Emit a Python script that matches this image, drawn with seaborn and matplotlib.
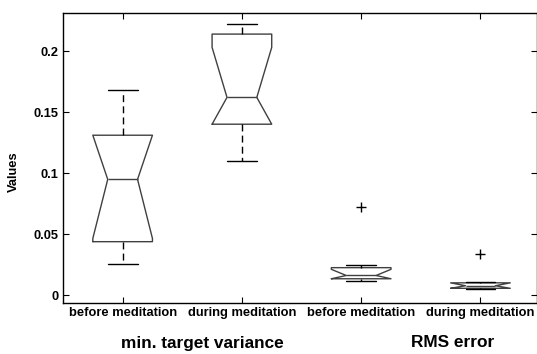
import numpy as np
import pandas as pd
import matplotlib.pyplot as plt
import seaborn as sns
from matplotlib.transforms import blended_transform_factory

# groups on the x axis (keys must be unique, labels repeat)
groups = ['mtv_before', 'mtv_during', 'rms_before', 'rms_during']
tick_labels = ['before meditation', 'during meditation',
               'before meditation', 'during meditation']
measure_labels = ['min. target variance', 'RMS error']

# values (8 per group)
mtv_before = [0.0252, 0.0420, 0.0443, 0.0900, 0.0996, 0.1280, 0.1400, 0.1680]
mtv_during = [0.1098, 0.1380, 0.1407, 0.1580, 0.1660, 0.2120, 0.2196, 0.2219]
rms_before = [0.0115, 0.0128, 0.0135, 0.0155, 0.0165, 0.0217, 0.0246, 0.0724]
rms_during = [0.0047, 0.0052, 0.0056, 0.0072, 0.0080, 0.0097, 0.0108, 0.0336]

ytick_values = [0, 0.05, 0.1, 0.15, 0.2]
ytick_labels = ['0', '0.05', '0.1', '0.15', '0.2']

series = [mtv_before, mtv_during, rms_before, rms_during]
df = pd.DataFrame({
    'group': np.repeat(groups, [len(s) for s in series]),
    'value': np.concatenate(series),
})

sns.set_style('ticks')
plt.rcParams['font.family'] = ['Liberation Sans', 'DejaVu Sans']
plt.rcParams['font.weight'] = 'bold'
plt.rcParams['text.color'] = 'k'
plt.rcParams['axes.labelcolor'] = 'k'
plt.rcParams['xtick.color'] = 'k'
plt.rcParams['ytick.color'] = 'k'

fig = plt.figure(figsize=(5.37, 3.54), dpi=100)
ax = fig.add_axes([63 / 537, 1 - 302.7 / 354, (536.5 - 63) / 537, (302.7 - 12.5) / 354])

sns.boxplot(data=df, x='group', y='value', order=groups, ax=ax,
            notch=True, fill=False, width=0.5, whis=1.5, linewidth=1,
            color='#404040',
            boxprops=dict(color='#404040', linewidth=1),
            medianprops=dict(color='#404040', linewidth=1),
            whiskerprops=dict(color='k', linewidth=1, linestyle=(0, (5, 3))),
            capprops=dict(color='k', linewidth=1),
            flierprops=dict(marker='+', markeredgecolor='k', markersize=7,
                            markeredgewidth=1))

# notches that reach past the quartiles are cut at the box edge
if ax.containers:
    for box in ax.containers[0].boxes:
        y = np.asarray(box.get_ydata(), float)
        if len(y) == 11:
            box.set_ydata(np.clip(y, y[0], y[5]))

ax.set_xlim(-0.5, 3.47)
ax.set_ylim(-0.0063, 0.2316)
ax.set_xticks(range(len(groups)))
ax.set_xticklabels(tick_labels)
ax.set_yticks(ytick_values)
ax.set_yticklabels(ytick_labels)
ax.set_xlabel('')
ax.set_ylabel('Values', fontsize=9.3, fontweight='bold')
ax.yaxis.set_label_coords(-0.092, 0.45)
ax.tick_params(direction='in', length=4, width=0.8, top=True, right=True,
               labelsize=9.3, pad=3, colors='k')
for sp in ax.spines.values():
    sp.set_color('k')
    sp.set_linewidth(1)

trans = blended_transform_factory(ax.transData, fig.transFigure)
ax.text(0.665, 0.017, measure_labels[0], transform=trans, ha='center',
        va='baseline', fontsize=12.4, fontweight='bold')
ax.text(2.77, 0.021, measure_labels[1], transform=trans, ha='center',
        va='baseline', fontsize=12.4, fontweight='bold')

fig.savefig('out.png', dpi=100)
